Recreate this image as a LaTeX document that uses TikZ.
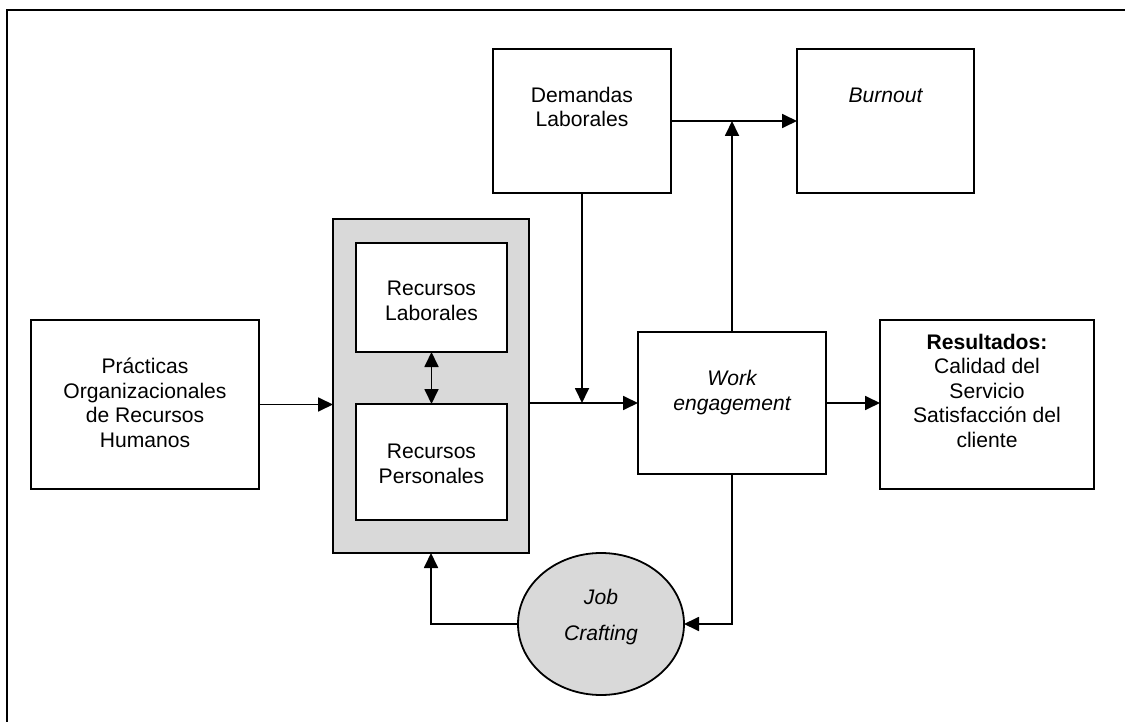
\documentclass[tikz,border=0pt]{standalone}
\usepackage{fontspec}
\setmainfont{Liberation Sans}
\usetikzlibrary{arrows.meta,shapes.geometric}
\definecolor{boxgray}{HTML}{D9D9D9}
\begin{document}
\begin{tikzpicture}[x=1pt,y=-1pt,
  every node/.style={inner sep=0pt,outer sep=0pt},
  box/.style={draw=black,line width=1.8pt,fill=white,rectangle},
  graybox/.style={draw=black,line width=1.8pt,fill=boxgray,rectangle},
  txt/.style={font=\fontsize{21.1}{24.4}\selectfont,align=center,anchor=base},
  conn/.style={line width=1.8pt,draw=black},
  arr/.style={conn,-{Triangle[length=15pt,width=14pt]}},
  darr/.style={conn,{Triangle[length=15pt,width=14pt]}-{Triangle[length=15pt,width=14pt]}}
]
\useasboundingbox (0,0) rectangle (1125,722);
% frame (clipped at right and bottom)
\coordinate (fbl) at (7,722);
\coordinate (ftl) at (7,10);
\coordinate (ftr) at (1125,10);
\draw[line width=2.2pt] (fbl) -- (ftl) -- (ftr);

% boxes
\node[box,minimum width=228pt,minimum height=169pt] (prac) at (145,404.5) {};
\node[graybox,minimum width=196pt,minimum height=334pt] (res) at (431,386) {};
\node[box,minimum width=151pt,minimum height=109pt] (rlab) at (431.5,297.5) {};
\node[box,minimum width=151pt,minimum height=116pt] (rper) at (431.5,462) {};
\node[box,minimum width=178pt,minimum height=144pt] (dem) at (582,121) {};
\node[box,minimum width=177pt,minimum height=144pt] (burn) at (885.5,121) {};
\node[box,minimum width=188pt,minimum height=142pt] (we) at (732,403) {};
\node[box,minimum width=214pt,minimum height=169pt] (resu) at (987,404.5) {};
\node[ellipse,draw=black,line width=1.8pt,fill=boxgray,minimum width=166pt,minimum height=142pt] (job) at (601,624) {};

% texts (anchor base = baseline of the last line)
\node[txt] (tprac) at (145,447) {Prácticas\\Organizacionales\\de Recursos\\Humanos};
\node[txt] (trlab) at (431.5,320) {Recursos\\Laborales};
\node[txt] (trper) at (431.5,483) {Recursos\\Personales};
\node[txt] (tdem) at (582,127) {Demandas\\Laborales};
\node[txt] (tburn) at (885.5,103) {\itshape Burnout};
\node[txt] (twe) at (732,410) {\itshape Work\\\itshape engagement};
\node[txt] (tresu) at (987,447) {\bfseries Resultados:\\Calidad del\\Servicio\\Satisfacción del\\cliente};
\node[txt] (tjob) at (601,640) {\itshape Job\\[11.6pt]\itshape Crafting};

% connectors
\draw[arr] (prac.east) -- (prac.east -| res.west);
\draw[arr] (res.east |- we.west) -- (we.west);
\coordinate (demhit) at (dem.south |- we.west);
\draw[arr] (dem.south) -- (demhit);
\draw[arr] (dem.east) -- (burn.west);
\coordinate (wehit) at (we.north |- dem.east);
\draw[arr] (we.north) -- (wehit);
\draw[darr] (rlab.south) -- (rper.north);
\draw[arr] (we.east) -- (we.east -| resu.west);
\draw[arr] (we.south) -- (we.south |- job.east) -- (job.east);
\draw[arr] (job.west) -- (job.west -| res.south) -- (res.south);
\end{tikzpicture}
\end{document}
